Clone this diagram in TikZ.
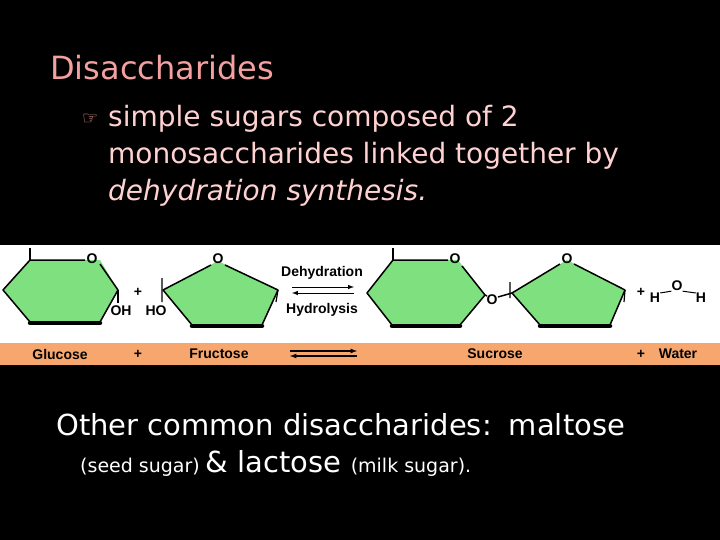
\documentclass[tikz,border=0pt]{standalone}
\usepackage{fontspec}
\setmainfont{DejaVu Sans}
\newfontfamily\lib{Liberation Sans}
\definecolor{ttl}{HTML}{F4A0A0}
\definecolor{bod}{HTML}{FFD2D2}
\definecolor{grn}{HTML}{7EE07E}
\definecolor{org}{HTML}{F7A66E}
\begin{document}
\begin{tikzpicture}[x=1pt,y=-1pt,
 sh/.style={line width=4.5pt,line cap=round},
 lb/.style={font=\lib\bfseries\fontsize{14}{14}\selectfont,inner sep=0pt},
 big/.style={anchor=base west,inner sep=0pt}]
\fill[black] (0,0) rectangle (720,540);
\useasboundingbox (0,0) rectangle (720,540);
\fill[white] (0,245) rectangle (720,343);
\fill[org] (0,343) rectangle (720,365);
\node[big,text=ttl,font=\fontsize{32}{32}\selectfont] (t) at (50,80) {Disaccharides};
\node[big,text=ttl,font=\fontsize{18}{18}\selectfont] (b) at (82,125) {☞};
\node[big,text=bod,font=\fontsize{28}{30}\selectfont] (l1) at (108,127) {simple sugars composed of 2};
\node[big,text=bod,font=\fontsize{28}{30}\selectfont] (l2) at (108,164) {monosaccharides linked together by};
\node[big,text=bod,font=\fontsize{28}{30}\selectfont\itshape] (l3) at (108,201) {dehydration synthesis.};
% glucose
\fill[grn] (30,260)--(100,260)--(118,290)--(100,322)--(30,322)--(3,290)--cycle;
\draw[line width=1.5pt,line join=round] (100,264)--(118,290)--(100,322)--(30,322)--(3,290)--(30,260)--(85,260);
\draw[sh] (30,323)--(100,323);
\draw[line width=1.5pt] (30,260)--(30,248);
\node[lb] (o1) at (92,259) {O};
\draw[line width=1.2pt] (118,290)--(118,303);
\node[lb] (oh) at (121,311) {OH};
\node[lb] (p1) at (138,292) {+};
\node[lb] (ho) at (156,311) {HO};
% fructose
\fill[grn] (218,261)--(278,290)--(262,325)--(192,325)--(163,290)--cycle;
\draw[line width=1.5pt,line join=round] (211,265)--(163,290)--(192,325)--(262,325)--(278,290)--(225,265);
\draw[sh] (192,326)--(262,326);
\node[lb] (o2) at (218,259) {O};
\draw[line width=1.2pt] (162,278)--(162,302) (278,290)--(276,302);
% arrows
\node[lb] (de) at (322,273) {Dehydration};
\node[lb] (hy) at (322,310) {Hydrolysis};
\draw[line width=1pt,-latex] (292,287)--(354,287);
\draw[line width=1pt,-latex] (354,293)--(292,293);
% sucrose
\fill[grn] (393,260)--(458,260)--(485,295)--(460,325)--(392,325)--(367,293)--cycle;
\draw[line width=1.5pt,line join=round] (448,260)--(393,260)--(367,293)--(392,325)--(460,325)--(485,295)--(462,266);
\draw[sh] (392,326)--(460,326);
\draw[line width=1.5pt] (393,260)--(393,248);
\node[lb] (o3) at (455,259) {O};
\node[lb] (o4) at (492,300) {O};
\draw[line width=1.5pt] (485,295)--(487,296) (498,297)--(512,293);
\fill[grn] (567,260)--(625,290)--(610,325)--(540,325)--(512,293)--cycle;
\draw[line width=1.5pt,line join=round] (560,264)--(512,293)--(540,325)--(610,325)--(625,290)--(574,264);
\draw[sh] (540,326)--(610,326);
\node[lb] (o5) at (567,259) {O};
\draw[line width=1.2pt] (510,282)--(510,298) (625,290)--(624,302);
\node[lb] (p2) at (641,292) {+};
\node[lb] (h1) at (655,298) {H};
\node[lb] (ow) at (677,286) {O};
\node[lb] (h2) at (701,298) {H};
\draw[line width=1pt] (h1.north east)--(ow.south west) (ow.south east)--(h2.north west);
% band
\node[lb] at (60,354) {Glucose};
\node[lb] at (138,354) {+};
\node[lb] at (219,354) {Fructose};
\draw[line width=1.2pt,-latex] (290,351)--(357,351);
\draw[line width=1.2pt,-latex] (357,356)--(290,356);
\node[lb] at (495,354) {Sucrose};
\node[lb] at (641,354) {+};
\node[lb] at (678,354) {Water};
% bottom
\node[big,text=white,font=\fontsize{29}{30}\selectfont] (m1) at (56,435) {Other common disaccharides:\, maltose};
\node[big,text=white] (m2) at (80,472) {\fontsize{19}{20}\selectfont(seed sugar) \fontsize{29}{30}\selectfont\&\ lactose \fontsize{19}{20}\selectfont(milk sugar).};
\end{tikzpicture}
\end{document}
